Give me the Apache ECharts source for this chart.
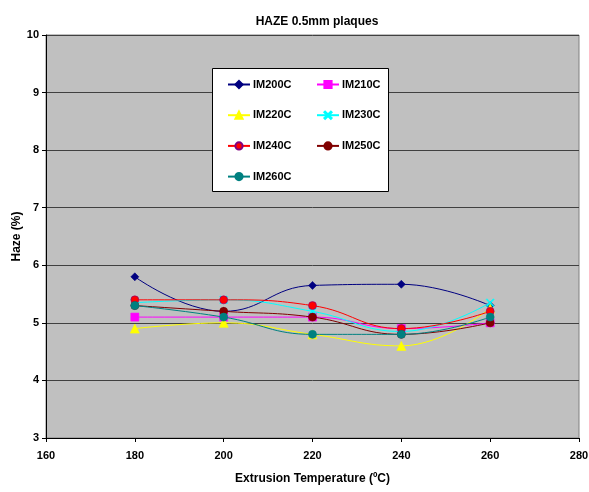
<!DOCTYPE html>
<html>
<head>
<meta charset="utf-8">
<script src="https://cdn.jsdelivr.net/npm/echarts@6/dist/echarts.min.js"></script>
<style>html,body{margin:0;padding:0;background:#fff;}#c{width:589px;height:492px;}</style>
</head>
<body>
<div id="c"></div>
<script>
const temps = [180, 200, 220, 240, 260];
const seriesNames = ['IM200C', 'IM210C', 'IM220C', 'IM230C', 'IM240C', 'IM250C', 'IM260C'];
const im200 = [5.8, 5.2, 5.65, 5.67, 5.3];
const im210 = [5.1, 5.1, 5.1, 4.9, 5.0];
const im220 = [4.9, 5.0, 4.8, 4.6, 5.25];
const im230 = [5.35, 5.4, 5.2, 4.85, 5.35];
const im240 = [5.4, 5.4, 5.3, 4.9, 5.2];
const im250 = [5.3, 5.2, 5.1, 4.8, 5.0];
const im260 = [5.3, 5.1, 4.8, 4.8, 5.1];
const xTicks = [160, 180, 200, 220, 240, 260, 280];
const yTicks = [3, 4, 5, 6, 7, 8, 9, 10];

const values = [im200, im210, im220, im230, im240, im250, im260];
const colors = ['#000080', '#FF00FF', '#FFFF00', '#00FFFF', '#FF0000', '#800000', '#008080'];
const crossPath = 'path://M0,1L1,0L5,4L9,0L10,1L6,5L10,9L9,10L5,6L1,10L0,9L4,5Z';
const symbols = ['diamond', 'rect', 'triangle', crossPath, 'circle', 'circle', 'circle'];
const sizes = [8, 8, 9, 8, 8, 8, 8];
const borders = ['#000080', '#FF00FF', '#FFFF00', '#00FFFF', '#800080', '#800000', '#008080'];

const font = 'Liberation Sans, Arial, sans-serif';
const chart = echarts.init(document.getElementById('c'));
const series = seriesNames.map((n, i) => ({
  name: n,
  type: 'line',
  smooth: 0.45,
  data: temps.map((t, j) => [t, values[i][j]]),
  symbol: symbols[i],
  symbolSize: sizes[i],
  showAllSymbol: true,
  lineStyle: { color: colors[i], width: 1 },
  itemStyle: { color: colors[i], borderColor: borders[i], borderWidth: 0.6 },
  emphasis: { disabled: true },
  z: 2 + i * 0.01
}));

const legendText = { fontFamily: font, fontSize: 11, fontWeight: 'bold', color: '#000', padding: [0, 0, 0, -2] };

chart.setOption({
  animation: false,
  backgroundColor: '#ffffff',
  title: {
    text: 'HAZE 0.5mm plaques',
    left: 312, top: 11, textAlign: 'center',
    textStyle: { fontFamily: font, fontSize: 12, fontWeight: 'bold', color: '#000' }
  },
  grid: {
    left: 46, right: 10, top: 35, bottom: 54,
    outerBoundsMode: 'none', containLabel: false,
    show: true, backgroundColor: '#C0C0C0', borderColor: '#808080', borderWidth: 1
  },
  graphic: [{
    type: 'rect', z: 3,
    shape: { x: 212.5, y: 68.5, width: 176, height: 123 },
    style: { fill: '#ffffff', stroke: '#000000', lineWidth: 1 }
  }],
  legend: [
    {
      data: [seriesNames[0], seriesNames[2], seriesNames[4], seriesNames[6]],
      orient: 'vertical', left: 227, top: 79, padding: 0, itemWidth: 22, itemHeight: 9, itemGap: 19.7,
      z: 5, textStyle: legendText
    },
    {
      data: [seriesNames[1], seriesNames[3], seriesNames[5]],
      orient: 'vertical', left: 316, top: 79, padding: 0, itemWidth: 22, itemHeight: 9, itemGap: 19.7,
      z: 5, textStyle: legendText
    }
  ],
  xAxis: {
    type: 'value', min: xTicks[0], max: xTicks[xTicks.length - 1], interval: 20,
    name: 'Extrusion Temperature (ºC)', nameLocation: 'middle', nameGap: 35,
    nameTextStyle: { fontFamily: font, fontSize: 12, fontWeight: 'bold', color: '#000' },
    axisLine: { show: true, lineStyle: { color: '#000', width: 1 } },
    axisTick: { show: true, length: 4, lineStyle: { color: '#000' } },
    axisLabel: { fontFamily: font, fontSize: 11, fontWeight: 'bold', color: '#000', margin: 12 },
    splitLine: { show: false }
  },
  yAxis: {
    type: 'value', min: yTicks[0], max: yTicks[yTicks.length - 1], interval: 1,
    name: 'Haze (%)', nameLocation: 'middle', nameGap: 23, nameRotate: 90, nameMoveOverlap: false,
    nameTextStyle: { fontFamily: font, fontSize: 12, fontWeight: 'bold', color: '#000' },
    axisLine: { show: true, lineStyle: { color: '#000', width: 1 } },
    axisTick: { show: true, length: 4, lineStyle: { color: '#000' } },
    axisLabel: { fontFamily: font, fontSize: 11, fontWeight: 'bold', color: '#000', margin: 7 },
    splitLine: { show: true, lineStyle: { color: '#404040', width: 1 } }
  },
  series: series
});
</script>
</body>
</html>
